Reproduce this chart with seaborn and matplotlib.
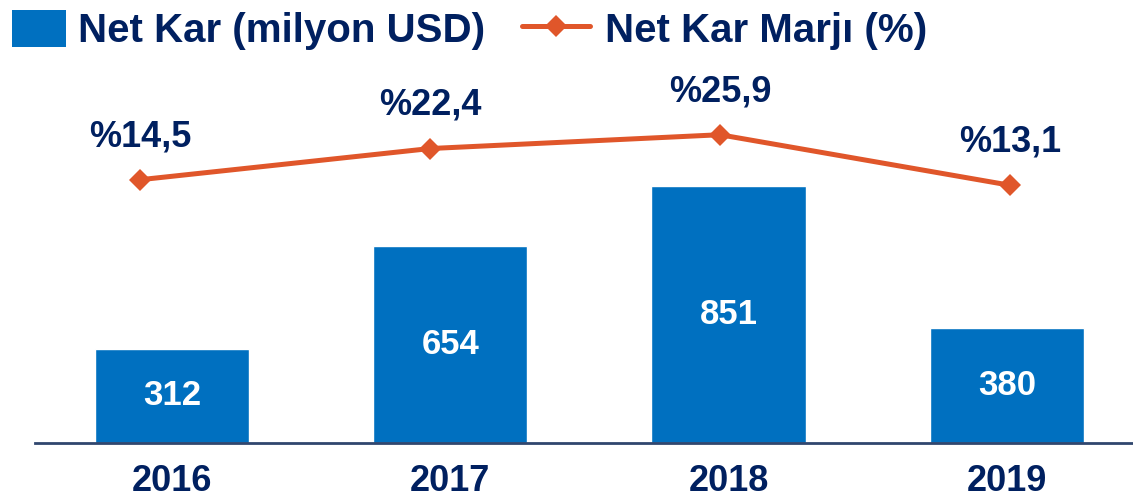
import numpy as np
import pandas as pd
import matplotlib
matplotlib.use("Agg")
import matplotlib.pyplot as plt
from matplotlib.patches import Patch
from matplotlib.lines import Line2D
import seaborn as sns

# ===== 数据 =====
YEARS = ["2016", "2017", "2018", "2019"]
NET_KAR = [312, 654, 851, 380]          # milyon USD
NET_MARJ = [14.5, 22.4, 25.9, 13.1]     # %

BAR_BLUE = "#0070C0"
LINE_ORANGE = "#E0562A"
NAVY = "#002060"

sns.set_theme(style="white")
plt.rcParams["font.family"] = ["Liberation Sans", "DejaVu Sans"]
plt.rcParams["font.weight"] = "bold"

fig = plt.figure(figsize=(11.33, 4.97), dpi=100)
rect = [35 / 1133, 1 - 443 / 497, (1133 - 35) / 1133, (443 - 70) / 497]
ax = fig.add_axes(rect)

df = pd.DataFrame({"year": YEARS, "kar": NET_KAR})
sns.barplot(data=df, x="year", y="kar", color=BAR_BLUE, saturation=1,
            width=0.555, ax=ax)
ax.bar_label(ax.containers[0], labels=[str(v) for v in NET_KAR],
             label_type="center", color="white", fontsize=25, fontweight="bold")

ax.set_xlim(-0.492, 3.453)
ax.set_ylim(0, 1237)
ax.set_xlabel(""); ax.set_ylabel("")
ax.set_yticks([])
ax.tick_params(axis="x", length=0, pad=15, labelsize=26, labelcolor=NAVY)
for t in ax.get_xticklabels():
    t.set_fontweight("bold")
for s in ["top", "right", "left"]:
    ax.spines[s].set_visible(False)
ax.spines["bottom"].set_color("#30466E")
ax.spines["bottom"].set_linewidth(2)
ax.patch.set_alpha(0)

# ===== 折线（单独坐标轴叠加）=====
ax2 = fig.add_axes(rect)
ax2.patch.set_alpha(0)
dfl = pd.DataFrame({"i": np.arange(len(YEARS)), "marj": NET_MARJ})
sns.lineplot(data=dfl, x="i", y="marj", color=LINE_ORANGE, lw=3.6,
             marker="D", markersize=11, markeredgewidth=0, ax=ax2)
for i, v in enumerate(NET_MARJ):
    ax2.annotate(f"%{v:.1f}".replace(".", ","), (i, v), xytext=(0, 31),
                 textcoords="offset points", ha="center", va="center",
                 fontsize=26, fontweight="bold", color=NAVY)
ax2.set_xlim(-0.362, 3.424)
ax2.set_ylim(-52.2, 42.3)
ax2.axis("off")

# ===== 图例（两个，分别控制手柄长度）=====
leg_kw = dict(loc="upper left", frameon=False, prop={"size": 29, "weight": "bold"},
              labelcolor=NAVY, borderpad=0, borderaxespad=0)
leg1 = fig.legend([Patch(facecolor=BAR_BLUE, edgecolor="none")],
                  ["Net Kar (milyon USD)"], bbox_to_anchor=(12 / 1133, 1 - 10 / 497),
                  handlelength=1.33, handleheight=1.05, handletextpad=0.3, **leg_kw)
leg2 = fig.legend([Line2D([0], [0], color=LINE_ORANGE, lw=3.6, marker="D",
                          markersize=11, markeredgewidth=0)],
                  ["Net Kar Marjı (%)"], bbox_to_anchor=(522 / 1133, 1 - 10 / 497),
                  handlelength=1.7, handleheight=1.05, handletextpad=0.35, **leg_kw)

fig.savefig("out.png", dpi=100)
